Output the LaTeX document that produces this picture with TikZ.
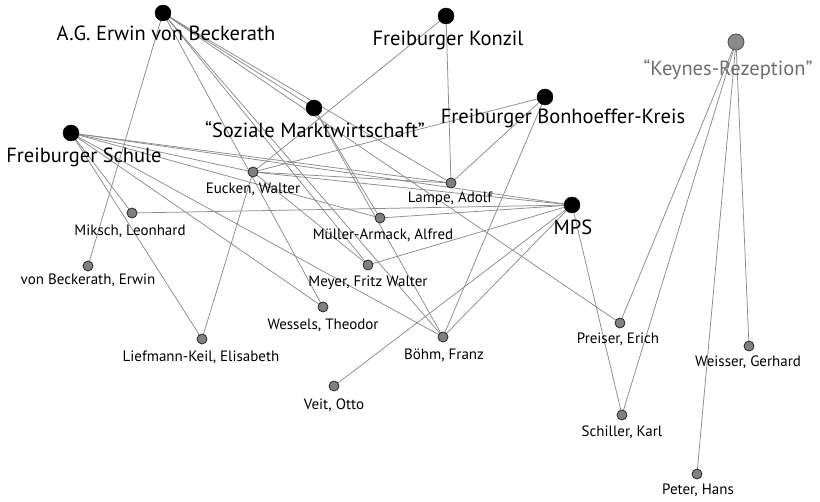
\documentclass[tikz,border=0pt]{standalone}
\usepackage{fontspec}
\setmainfont{PT Sans}
\pgfdeclarelayer{bg}
\pgfsetlayers{bg,main}
\definecolor{edgegray}{HTML}{8C8C8C}
\definecolor{nodegray}{HTML}{808080}
\definecolor{keygray}{HTML}{8A8A8A}
\definecolor{keytext}{HTML}{6E6E6E}
\tikzset{
  hub/.style={circle,fill=black,draw=black,inner sep=0pt,minimum size=16pt},
  keyhub/.style={circle,fill=keygray,draw=black!70,line width=0.8pt,inner sep=0pt,minimum size=16pt},
  person/.style={circle,fill=nodegray,draw=black!85,line width=0.8pt,inner sep=0pt,minimum size=10pt},
  biglabel/.style={inner sep=0pt,font=\fontsize{20.5}{22}\selectfont},
  keylabel/.style={inner sep=0pt,font=\fontsize{20.5}{22}\selectfont,text=keytext},
  smalllabel/.style={inner sep=0pt,font=\fontsize{15}{17}\selectfont},
  edge/.style={draw=edgegray,line width=0.75pt}
}
\begin{document}
\begin{tikzpicture}[x=1pt,y=-1pt]
\begin{pgfonlayer}{bg}
\fill[white] (0,0) rectangle (820,502);
\end{pgfonlayer}
\useasboundingbox (0,0) rectangle (820,502);
% hubs
\node[hub] (ag) at (163,13) {};
\node[hub] (konzil) at (446,16) {};
\node[hub] (soz) at (314,108) {};
\node[hub] (bonh) at (545,97) {};
\node[hub] (schule) at (71,133) {};
\node[hub] (mps) at (572,205) {};
\node[keyhub] (keynes) at (736,42) {};
% persons
\node[person] (eucken) at (253,172) {};
\node[person] (lampe) at (451,183) {};
\node[person] (miksch) at (132,213) {};
\node[person] (ma) at (380,218) {};
\node[person] (vbe) at (88,266) {};
\node[person] (meyer) at (368,265) {};
\node[person] (wessels) at (323,307) {};
\node[person] (liefmann) at (202,339) {};
\node[person] (boehm) at (443,337) {};
\node[person] (preiser) at (620,323) {};
\node[person] (weisser) at (749,346) {};
\node[person] (veit) at (334,386) {};
\node[person] (schiller) at (622,415) {};
\node[person] (peter) at (697,474) {};
% labels
\node[biglabel] (lag) at (166,33) {A.G. Erwin von Beckerath};
\node[biglabel] (lkonzil) at (448,40) {Freiburger Konzil};
\node[biglabel] (lsoz) at (315,130) {“Soziale Marktwirtschaft”};
\node[biglabel] (lbonh) at (563,118) {Freiburger Bonhoeffer-Kreis};
\node[biglabel] (lschule) at (84,157) {Freiburger Schule};
\node[biglabel] (lmps) at (573,227) {MPS};
\node[keylabel] (lkeynes) at (728,70) {“Keynes-Rezeption”};
\node[smalllabel] (leucken) at (253,189) {Eucken, Walter};
\node[smalllabel] (llampe) at (450,199) {Lampe, Adolf};
\node[smalllabel] (lmiksch) at (130,231) {Miksch, Leonhard};
\node[smalllabel] (lma) at (383,235) {Müller-Armack, Alfred};
\node[smalllabel] (lvbe) at (88,280) {von Beckerath, Erwin};
\node[smalllabel] (lmeyer) at (368,283) {Meyer, Fritz Walter};
\node[smalllabel] (lwessels) at (323,325) {Wessels, Theodor};
\node[smalllabel] (lliefmann) at (201,357) {Liefmann-Keil, Elisabeth};
\node[smalllabel] (lboehm) at (444,355) {Böhm, Franz};
\node[smalllabel] (lpreiser) at (618,339) {Preiser, Erich};
\node[smalllabel] (lweisser) at (748,362) {Weisser, Gerhard};
\node[smalllabel] (lveit) at (334,405) {Veit, Otto};
\node[smalllabel] (lschiller) at (622,432) {Schiller, Karl};
\node[smalllabel] (lpeter) at (698,490) {Peter, Hans};
% edges
\begin{pgfonlayer}{bg}
\foreach \a/\b in {
  ag/vbe, ag/wessels, ag/meyer, ag/boehm, ag/soz, ag/lampe, ag/preiser,
  konzil/eucken, konzil/lampe,
  bonh/eucken, bonh/lampe, bonh/boehm,
  soz/ma, soz/boehm,
  schule/eucken, schule/lampe, schule/mps, schule/miksch, schule/ma,
  schule/liefmann, schule/wessels, schule/boehm,
  eucken/liefmann, eucken/meyer, eucken/lampe, eucken/mps,
  mps/miksch, mps/ma, mps/meyer, mps/boehm, mps/veit, mps/schiller,
  keynes/preiser, keynes/schiller, keynes/peter, keynes/weisser}
  \draw[edge] (\a.center) -- (\b.center);
\end{pgfonlayer}
\end{tikzpicture}
\end{document}
